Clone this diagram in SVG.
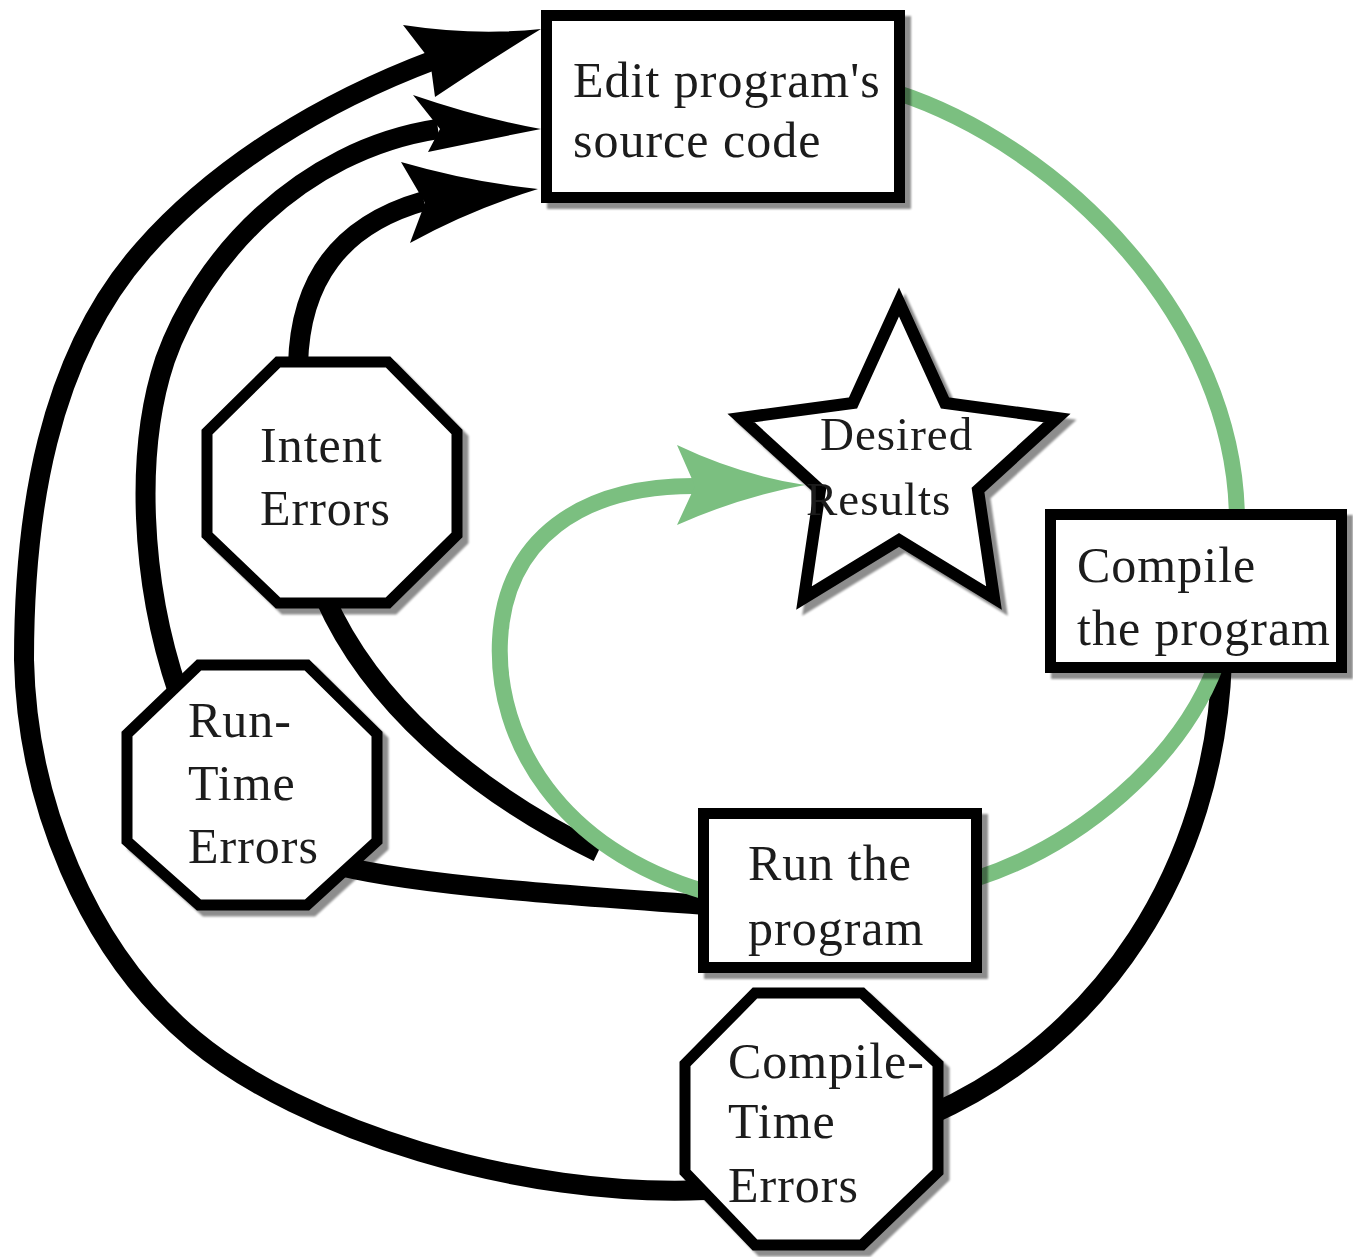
<svg xmlns="http://www.w3.org/2000/svg" width="1353" height="1257" viewBox="0 0 1353 1257">
<defs>
<filter id="sh" x="-10%" y="-10%" width="130%" height="130%">
<feGaussianBlur in="SourceAlpha" stdDeviation="1.2"/>
<feOffset dx="6" dy="6" result="o"/>
<feComponentTransfer><feFuncA type="linear" slope="0.45"/></feComponentTransfer>
<feMerge><feMergeNode/><feMergeNode in="SourceGraphic"/></feMerge>
</filter>
</defs>
<style>
.blk{fill:none;stroke:#000;stroke-width:20;stroke-linecap:butt}
.grn{fill:none;stroke:#7bbf80;stroke-width:16}
.bh{fill:#000}
.gh{fill:#7bbf80}
.box{fill:#fff;stroke:#000;stroke-width:11}
.oct{fill:#fff;stroke:#000;stroke-width:11;stroke-linejoin:miter}
.star{fill:#fff;stroke:#000;stroke-width:12;stroke-linejoin:miter}
.node{filter:url(#sh)}
text{font-family:"Liberation Serif","Times New Roman",serif;font-size:50px;letter-spacing:1px;fill:#1a1a1a}
</style>
<rect width="1353" height="1257" fill="#fff"/>
<g id="connectors">
<path class="blk" d="M705,1190 C520,1198 302,1130 194,1040 C86,950 27,800 24,660 C24,515 47,359 143,250 C219,164 325,101 434,60"/>
<path class="bh" d="M403,25 Q475,36 541,29 Q490,60 435,97 L430,60 Z"/>
<path class="blk" d="M178,692 C140,580 135,450 165,360 C200,260 300,150 438,129"/>
<path class="bh" d="M413,95 Q480,118 541,129 Q485,140 428,152 L440,129 Z"/>
<path class="blk" d="M298,365 C300,280 340,225 424,201"/>
<path class="bh" d="M401,162 Q470,182 538,189 Q470,210 410,243 L425,203 Z"/>
<path class="blk" d="M325,598 C370,700 470,790 598,852"/>
<path class="blk" d="M340,866 C420,885 560,895 706,905"/>
<path class="blk" d="M1222,660 C1215,870 1100,1040 930,1115"/>
<path class="grn" d="M895,92 C1060,145 1237,320 1237,522"/>
<path class="grn" d="M1216,665 C1180,760 1080,845 975,879"/>
<path class="grn" d="M706,892 C560,850 495,740 500,640 C505,540 580,485 697,486"/>
<path class="gh" d="M677,445 Q740,475 805,485 Q740,497 677,525 L695,486 Z"/>
</g>
<g id="edit" class="node">
<rect class="box" x="546.5" y="15.5" width="353" height="182"/>
<text x="573" y="97">Edit program's</text>
<text x="573" y="157">source code</text>
</g>
<g id="compile" class="node">
<rect class="box" x="1050.5" y="514.5" width="291" height="153"/>
<text x="1077" y="582">Compile</text>
<text x="1077" y="645">the program</text>
</g>
<g id="run" class="node">
<rect class="box" x="703.5" y="813.5" width="273" height="154"/>
<text x="748" y="880">Run the</text>
<text x="748" y="945">program</text>
</g>
<g id="desired" class="node">
<polygon class="star" points="899,302 945,403 1057,418 978,490 994,598 899,540 804,598 820,490 741,418 853,403"/>
<text x="820" y="450" style="font-size:47px">Desired</text>
<text x="806" y="515" style="font-size:47px">Results</text>
</g>
<g id="intent" class="node">
<polygon class="oct" points="278,362 388,362 457,432 457,535 388,603 278,603 207,535 207,432"/>
<text x="260" y="462">Intent</text>
<text x="260" y="525">Errors</text>
</g>
<g id="runtime" class="node">
<polygon class="oct" points="199,665 307,665 377,734 377,841 307,905 199,905 127,841 127,734"/>
<text x="188" y="737">Run-</text>
<text x="188" y="800">Time</text>
<text x="188" y="863">Errors</text>
</g>
<g id="compiletime" class="node">
<polygon class="oct" points="755,993 862,993 938,1064 938,1172 862,1245 755,1245 685,1172 685,1064"/>
<text x="728" y="1078">Compile-</text>
<text x="728" y="1138">Time</text>
<text x="728" y="1202">Errors</text>
</g>
</svg>
